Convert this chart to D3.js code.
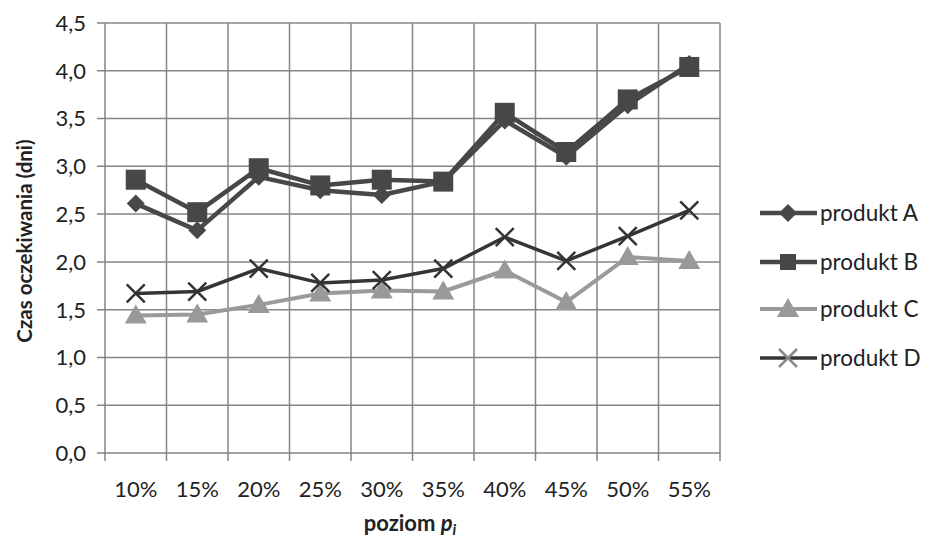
<!DOCTYPE html>
<html><head><meta charset="utf-8">
<script src="https://cdn.jsdelivr.net/npm/d3@7"></script>
<style>body{margin:0;background:#fff}svg{display:block}text{font-family:Lato,"Open Sans",sans-serif;fill:#222}</style>
</head><body><svg id="c" width="930" height="539"></svg>
<script>
const categories = ["10%","15%","20%","25%","30%","35%","40%","45%","50%","55%"];
const produktA = [2.61,2.33,2.89,2.75,2.70,2.84,3.48,3.10,3.64,4.07];
const produktB = [2.86,2.52,2.98,2.80,2.86,2.84,3.56,3.15,3.70,4.04];
const produktC = [1.44,1.45,1.55,1.67,1.70,1.69,1.91,1.58,2.05,2.01];
const produktD = [1.67,1.69,1.93,1.78,1.81,1.93,2.26,2.01,2.27,2.54];
const yTicks = [0,0.5,1,1.5,2,2.5,3,3.5,4,4.5];
const seriesNames = ["produkt A","produkt B","produkt C","produkt D"];

const svg = d3.select("#c");
const L=105,R=720,T=23,B=453;
const x = d3.scaleBand().domain(categories).range([L,R]);
const y = d3.scaleLinear().domain([0,4.5]).range([B,T]);
const grid="#858585";

svg.append("g").selectAll("line").data(yTicks).join("line")
  .attr("x1",L-8).attr("x2",R).attr("y1",d=>y(d)).attr("y2",d=>y(d))
  .attr("stroke",grid).attr("stroke-width",1.5);
const bounds = categories.map(c=>x(c)).concat([R]);
svg.append("g").selectAll("line").data(bounds).join("line")
  .attr("x1",d=>d).attr("x2",d=>d).attr("y1",T).attr("y2",B+8)
  .attr("stroke",grid).attr("stroke-width",1.5);

svg.append("g").selectAll("text").data(yTicks).join("text")
  .attr("x",86).attr("y",d=>y(d)).attr("dy","0.36em").attr("text-anchor","end")
  .attr("font-size",22).text(d=>d3.format(".1f")(d).replace(".",","));
svg.append("g").selectAll("text").data(categories).join("text")
  .attr("x",d=>x(d)+x.bandwidth()/2).attr("y",497).attr("text-anchor","middle")
  .attr("font-size",22).text(d=>d);

svg.append("text").attr("transform","translate(32,241) rotate(-90)").attr("text-anchor","middle")
  .attr("font-size",20.5).attr("font-weight","bold").text("Czas oczekiwania (dni)");
const xt = svg.append("text").attr("x",410).attr("y",531).attr("text-anchor","middle")
  .attr("font-size",22).attr("font-weight","bold");
xt.append("tspan").text("poziom ");
xt.append("tspan").attr("font-style","italic").text("p");
xt.append("tspan").attr("font-style","italic").attr("font-size",15).attr("dy",4).text("i");

const cx = c=>x(c)+x.bandwidth()/2;
const series = [
  {name:seriesNames[0],vals:produktA,color:"#484848",lw:4.5,marker:"diamond",mcolor:"#484848"},
  {name:seriesNames[1],vals:produktB,color:"#474747",lw:4.5,marker:"square",mcolor:"#474747"},
  {name:seriesNames[2],vals:produktC,color:"#9a9a9a",lw:4,marker:"triangle",mcolor:"#999999"},
  {name:seriesNames[3],vals:produktD,color:"#353535",lw:3.5,marker:"x",mcolor:"#333333"}
];
const line = d3.line().x((d,i)=>cx(categories[i])).y(d=>y(d));

function drawMarker(g,type,px,py,col,legend){
  if(type==="diamond"){
    g.append("path").attr("d",`M${px},${py-9}L${px+9},${py}L${px},${py+9}L${px-9},${py}Z`).attr("fill",col);
  } else if(type==="square"){
    g.append("rect").attr("x",px-10).attr("y",py-10).attr("width",20).attr("height",20).attr("fill",col);
  } else if(type==="triangle"){
    g.append("path").attr("d",`M${px},${py-11}L${px+11},${py+8}L${px-11},${py+8}Z`).attr("fill",col);
  } else {
    const s=9;
    g.append("path").attr("d",`M${px-s},${py-s}L${px+s},${py+s}M${px-s},${py+s}L${px+s},${py-s}`)
      .attr("stroke",legend?"#8a8a8a":col).attr("stroke-width",2.5).attr("fill","none");
  }
}

series.forEach(s=>{
  const g=svg.append("g");
  g.append("path").datum(s.vals).attr("d",line).attr("fill","none")
    .attr("stroke",s.color).attr("stroke-width",s.lw).attr("stroke-linejoin","round");
  s.vals.forEach((v,i)=>drawMarker(g,s.marker,cx(categories[i]),y(v),s.mcolor,false));
});

const ly=[213,262,309,358];
series.forEach((s,i)=>{
  const g=svg.append("g");
  g.append("line").attr("x1",760).attr("x2",817).attr("y1",ly[i]).attr("y2",ly[i])
    .attr("stroke",s.color).attr("stroke-width",s.lw);
  if(s.marker==="square") g.append("rect").attr("x",780).attr("y",ly[i]-8).attr("width",16).attr("height",16).attr("fill",s.mcolor);
  else drawMarker(g,s.marker,788,ly[i],s.mcolor,true);
  g.append("text").attr("x",820).attr("y",ly[i]).attr("dy","0.36em").attr("font-size",22.5).text(s.name);
});
</script></body></html>
